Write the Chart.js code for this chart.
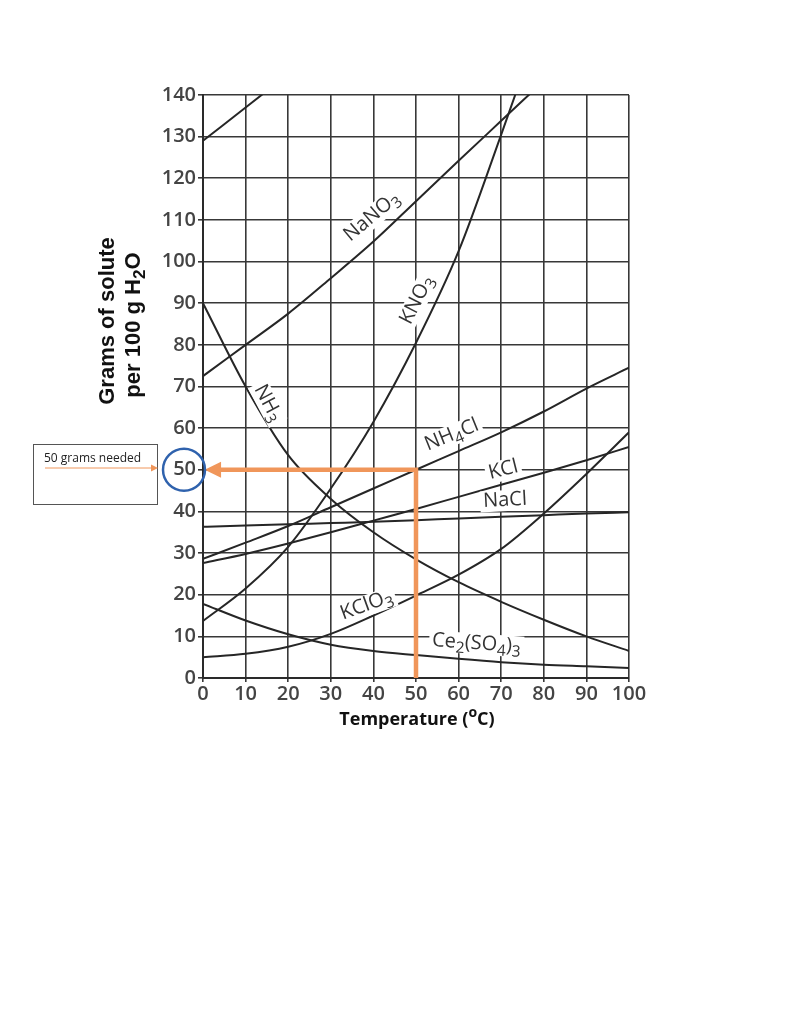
<!DOCTYPE html>
<html>
<head>
<meta charset="utf-8">
<script src="https://cdn.jsdelivr.net/npm/chart.js@4.4.0/dist/chart.umd.min.js"></script>
<style>
  html, body { margin: 0; padding: 0; background: #fff; }
  canvas { display: block; }
</style>
</head>
<body>
<canvas id="solubility_chart" width="800" height="1035"></canvas>
<script>
// temperatures (deg C) and grams of solute per 100 g water
var temps = [0, 10, 20, 30, 40, 50, 60, 70, 80, 90, 100];

var ki_temps = [0, 10, 20];
var ki = [129, 137, 145];

var nano3_temps = [0, 10, 20, 30, 40, 50, 60, 70, 80];
var nano3 = [72.5, 80, 87.5, 96, 104.8, 114.5, 124.2, 133.8, 143.4];

var kno3_temps = [0, 10, 20, 30, 40, 50, 60, 70, 75];
var kno3 = [13.7, 21.5, 31.5, 45.5, 61.5, 80.5, 102.5, 130.5, 145];

var nh3 = [90, 70, 53.5, 43, 35, 28.5, 23, 18.3, 14, 10, 6.5];
var nh4cl = [28.6, 32.5, 36.5, 41, 45.5, 50, 54.5, 59, 64, 69.5, 74.5];
var kcl = [27.6, 29.8, 32.3, 35, 37.8, 40.6, 43.5, 46.4, 49.3, 52.3, 55.5];
var nacl = [36.3, 36.6, 36.9, 37.2, 37.5, 37.9, 38.3, 38.7, 39.1, 39.5, 39.8];
var kclo3 = [5, 5.8, 7.5, 10.6, 15, 19.8, 24.8, 31, 39.5, 49, 59];
var ce2so43 = [17.8, 13.8, 10.5, 8, 6.5, 5.5, 4.6, 3.8, 3.2, 2.8, 2.4];

// orange "read-off" guide: up from 50 C, then left to the axis at 50 g
var guide_temps = [50, 50, 4];
var guide_grams = [0, 50, 50];

var y_ticks = [0, 10, 20, 30, 40, 50, 60, 70, 80, 90, 100, 110, 120, 130, 140];
var x_ticks = [0, 10, 20, 30, 40, 50, 60, 70, 80, 90, 100];

// curve labels: [segments, temp, grams, angle in degrees]
var curve_labels = [
    [[['NaNO', ''], ['3', 'sub']], 39.6, 110.8, -40],
    [[['KNO', ''], ['3', 'sub']], 50.2, 90.8, -63],
    [[['NH', ''], ['3', 'sub']], 15.3, 66, 62],
    [[['NH', ''], ['4', 'sub'], ['Cl', '']], 58.4, 58.4, -22],
    [[['KCl', '']], 70.5, 50, -14],
    [[['NaCl', '']], 70.9, 42.7, -3],
    [[['KClO', ''], ['3', 'sub']], 38.4, 17.5, -20],
    [[['Ce', ''], ['2', 'sub'], ['(SO', ''], ['4', 'sub'], [')', ''], ['3', 'sub']], 64.2, 8.3, 4]
];

function pts(xs, ys) {
    return xs.map(function (x, i) { return { x: x, y: ys[i] }; });
}

function curve(xs, ys) {
    return {
        data: pts(xs, ys),
        borderColor: '#262626',
        borderWidth: 2,
        pointRadius: 0,
        fill: false,
        cubicInterpolationMode: 'monotone',
        order: 2
    };
}

function drawRich(ctx, segs, size, weight, family) {
    var w = 0;
    segs.forEach(function (s) {
        var fs = s[1] ? size * 0.78 : size;
        ctx.font = weight + ' ' + fs + 'px ' + family;
        s.w = ctx.measureText(s[0]).width;
        w += s.w;
    });
    return w;
}

function fillRich(ctx, segs, x0, size, weight, family) {
    var x = x0;
    segs.forEach(function (s) {
        var fs = s[1] ? size * 0.78 : size;
        var dy = s[1] === 'sub' ? size * 0.3 : (s[1] === 'sup' ? -size * 0.38 : 0);
        ctx.font = weight + ' ' + fs + 'px ' + family;
        ctx.fillText(s[0], x, dy);
        x += s.w;
    });
}

var overlay = {
    id: 'overlay',
    afterDatasetsDraw: function (chart) {
        var ctx = chart.ctx;
        var xs = chart.scales.x, ys = chart.scales.y;
        var font = '"Open Sans", sans-serif';

        // curve labels on white patches
        curve_labels.forEach(function (lb) {
            var size = 20;
            ctx.save();
            ctx.translate(xs.getPixelForValue(lb[1]), ys.getPixelForValue(lb[2]));
            ctx.rotate(lb[3] * Math.PI / 180);
            var w = drawRich(ctx, lb[0], size, 'normal', font);
            ctx.fillStyle = '#fff';
            ctx.fillRect(-w / 2 - 3, -size * 0.5, w + 6, size * 1.05);
            ctx.fillStyle = '#333';
            ctx.textBaseline = 'middle';
            ctx.textAlign = 'left';
            fillRich(ctx, lb[0], -w / 2, size, 'normal', font);
            ctx.restore();
        });

        // arrow head of the orange guide
        var ay = ys.getPixelForValue(50);
        var tip = xs.getPixelForValue(0.4);
        var base = xs.getPixelForValue(guide_temps[2]) + 1;
        ctx.save();
        ctx.fillStyle = '#f0965a';
        ctx.beginPath();
        ctx.moveTo(tip, ay);
        ctx.lineTo(base, ay - 8);
        ctx.lineTo(base, ay + 8);
        ctx.closePath();
        ctx.fill();

        // blue circle round the 50 tick label
        ctx.strokeStyle = '#2f62ad';
        ctx.lineWidth = 2.5;
        ctx.beginPath();
        ctx.arc(184, ay, 21, 0, Math.PI * 2);
        ctx.stroke();

        // note box
        ctx.strokeStyle = '#555';
        ctx.lineWidth = 1;
        ctx.strokeRect(33.5, 444.5, 124, 60);
        ctx.fillStyle = '#222';
        ctx.font = '12px "Open Sans", sans-serif';
        ctx.textAlign = 'left';
        ctx.textBaseline = 'alphabetic';
        ctx.fillText('50 grams needed', 44, 462);
        ctx.strokeStyle = '#f0965a';
        ctx.beginPath();
        ctx.moveTo(45, 468);
        ctx.lineTo(152, 468);
        ctx.stroke();
        ctx.fillStyle = '#f0965a';
        ctx.beginPath();
        ctx.moveTo(158, 468);
        ctx.lineTo(151, 464.5);
        ctx.lineTo(151, 471.5);
        ctx.closePath();
        ctx.fill();

        // axis titles
        var tfont = '"Liberation Sans", Arial, sans-serif';
        ctx.fillStyle = '#111';
        ctx.textBaseline = 'middle';
        ctx.save();
        ctx.translate(108, 321);
        ctx.rotate(-Math.PI / 2);
        ctx.textAlign = 'center';
        ctx.font = 'bold 22px ' + tfont;
        ctx.fillText('Grams of solute', 0, 0);
        ctx.restore();

        ctx.save();
        ctx.translate(134, 325);
        ctx.rotate(-Math.PI / 2);
        ctx.textAlign = 'left';
        var ysegs = [['per 100 g H', ''], ['2', 'sub'], ['O', '']];
        var yw = drawRich(ctx, ysegs, 22, 'bold', tfont);
        fillRich(ctx, ysegs, -yw / 2, 22, 'bold', tfont);
        ctx.restore();

        ctx.save();
        ctx.translate(417, 720);
        ctx.textAlign = 'left';
        var xsegs = [['Temperature (', ''], ['o', 'sup'], ['C)', '']];
        var xw = drawRich(ctx, xsegs, 18, 'bold', font);
        fillRich(ctx, xsegs, -xw / 2, 18, 'bold', font);
        ctx.restore();

        ctx.restore();
    }
};

var tick_font = { family: '"Open Sans"', size: 20, weight: '600' };

var ctx = document.getElementById('solubility_chart').getContext('2d');

var solubility_chart = new Chart(ctx, {
    type: 'line',
    data: {
        datasets: [
            curve(ki_temps, ki),
            curve(nano3_temps, nano3),
            curve(kno3_temps, kno3),
            curve(temps, nh3),
            curve(temps, nh4cl),
            curve(temps, kcl),
            curve(temps, nacl),
            curve(temps, kclo3),
            curve(temps, ce2so43),
            {
                data: pts(guide_temps, guide_grams),
                borderColor: '#f0965a',
                borderWidth: 4.5,
                pointRadius: 0,
                fill: false,
                tension: 0,
                borderJoinStyle: 'miter',
                order: 1
            }
        ]
    },
    options: {
        responsive: false,
        animation: false,
        events: [],
        layout: { padding: { top: 95, right: 171, left: 0, bottom: 0 } },
        plugins: { legend: { display: false }, tooltip: { enabled: false } },
        scales: {
            x: {
                type: 'linear',
                min: 0,
                max: 100,
                afterFit: function (s) { s.height = 357; },
                afterBuildTicks: function (s) { s.ticks = x_ticks.map(function (v) { return { value: v }; }); },
                grid: { color: '#383838', lineWidth: 1.6, tickLength: 4 },
                border: { color: '#2a2a2a', width: 2 },
                ticks: { color: '#444', font: tick_font, padding: 0, maxRotation: 0 }
            },
            y: {
                min: 0,
                max: 140,
                afterFit: function (s) { s.width = 203; },
                afterBuildTicks: function (s) { s.ticks = y_ticks.map(function (v) { return { value: v }; }); },
                grid: { color: '#383838', lineWidth: 1.6, tickLength: 5 },
                border: { color: '#2a2a2a', width: 2 },
                ticks: { color: '#444', font: tick_font, padding: 2 }
            }
        }
    },
    plugins: [overlay]
});
</script>
</body>
</html>
